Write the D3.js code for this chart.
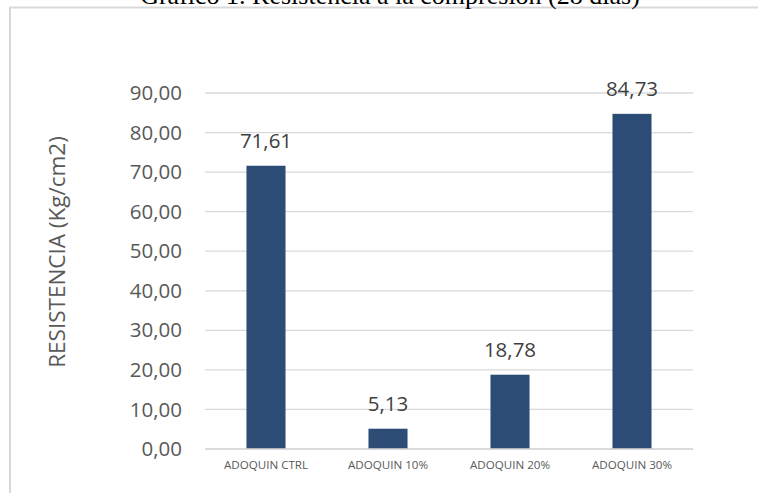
<!DOCTYPE html>
<html>
<head>
<meta charset="utf-8">
<script src="https://cdn.jsdelivr.net/npm/d3@7/dist/d3.min.js"></script>
<style>
  html, body { margin: 0; padding: 0; background: #fff; }
  svg { display: block; }
</style>
</head>
<body>
<svg id="chart" width="758" height="493"></svg>
<script>
const categories = ["ADOQUIN CTRL", "ADOQUIN 10%", "ADOQUIN 20%", "ADOQUIN 30%"];
const values = [71.61, 5.13, 18.78, 84.73];
const yTicks = [0, 10, 20, 30, 40, 50, 60, 70, 80, 90];
const titleText = "Gráfico 1. Resistencia a la compresión (28 días)";
const yTitle = "RESISTENCIA (Kg/cm2)";

const svg = d3.select("#chart");
const fmt = v => d3.format(".2f")(v).replace(".", ",");

// Frame (extends past right and bottom edges)
svg.append("rect")
  .attr("x", 10).attr("y", 7.5)
  .attr("width", 900).attr("height", 700)
  .attr("fill", "none").attr("stroke", "#d9d9d9").attr("stroke-width", 2);

// Title (cut off at top)
svg.append("text")
  .attr("x", 390).attr("y", 4)
  .attr("text-anchor", "middle")
  .attr("font-family", "Liberation Serif, Times New Roman, serif")
  .attr("font-size", 26)
  .attr("fill", "#000")
  .text(titleText);

const margin = { left: 205, right: 693, top: 93, bottom: 449 };

const x = d3.scaleBand().domain(categories).range([margin.left, margin.right]).paddingInner(0.68).paddingOuter(0.34);
const y = d3.scaleLinear().domain([0, 90]).range([margin.bottom, margin.top]);

// Gridlines
svg.append("g")
  .selectAll("line").data(yTicks).join("line")
  .attr("x1", margin.left).attr("x2", margin.right)
  .attr("y1", d => y(d)).attr("y2", d => y(d))
  .attr("stroke", "#d9d9d9").attr("stroke-width", 1.3);

// Y axis labels
const yAxis = d3.axisLeft(y).tickValues(yTicks).tickFormat(fmt).tickSize(0).tickPadding(0);
const gy = svg.append("g").attr("transform", `translate(182,0)`).call(yAxis);
gy.select(".domain").remove();
gy.selectAll("text")
  .attr("font-family", "Open Sans, sans-serif")
  .attr("font-size", 20.5)
  .attr("fill", "#595959");

// Bars
svg.append("g").selectAll("rect").data(values).join("rect")
  .attr("x", (d, i) => x(categories[i]))
  .attr("width", x.bandwidth())
  .attr("y", d => y(d))
  .attr("height", d => y(0) - y(d))
  .attr("fill", "#2c4c76");

// Value labels
svg.append("g").selectAll("text").data(values).join("text")
  .attr("x", (d, i) => x(categories[i]) + x.bandwidth() / 2)
  .attr("y", d => y(d) - 18)
  .attr("text-anchor", "middle")
  .attr("font-family", "Open Sans, sans-serif")
  .attr("font-size", 20.5)
  .attr("fill", "#404040")
  .text(d => fmt(d));

// X axis labels
const xAxis = d3.axisBottom(x).tickSize(0).tickPadding(0);
const gx = svg.append("g").attr("transform", `translate(0,${margin.bottom})`).call(xAxis);
gx.select(".domain").remove();
gx.selectAll("text")
  .attr("dy", null)
  .attr("y", 20)
  .attr("font-family", "Open Sans, sans-serif")
  .attr("font-size", 11.6)
  .attr("fill", "#595959");

// Baseline
svg.append("line")
  .attr("x1", margin.left).attr("x2", margin.right)
  .attr("y1", y(0)).attr("y2", y(0))
  .attr("stroke", "#d9d9d9").attr("stroke-width", 1.5);

// Y title
svg.append("text")
  .attr("transform", "translate(65,252) rotate(-90)")
  .attr("text-anchor", "middle")
  .attr("font-family", "Open Sans, sans-serif")
  .attr("font-size", 22.5)
  .attr("fill", "#595959")
  .text(yTitle);
</script>
</body>
</html>
